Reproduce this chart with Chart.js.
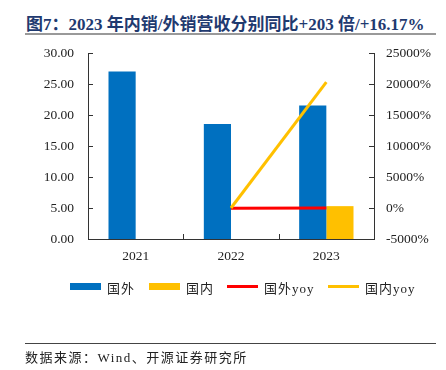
<!DOCTYPE html>
<html>
<head>
<meta charset="utf-8">
<script src="https://cdn.jsdelivr.net/npm/chart.js@4"></script>
<style>
  body { margin: 0; background: #fff; }
  #wrap { position: relative; width: 446px; height: 370px; overflow: hidden; }
  #chart { position: absolute; left: 0; top: 0; }
  .title { position: absolute; left: 26px; top: 10px; font: bold 17px "Liberation Serif", "Noto Sans CJK SC", serif; color: #1F3A70; white-space: nowrap; }
  .rule { position: absolute; left: 25px; width: 411px; background: #999; }
  .legend { position: absolute; top: 278px; left: 0; font: 13px "Liberation Serif", "Noto Sans CJK SC", serif; color: #222; }
  .legend span { position: absolute; white-space: nowrap; }
  .legend i { position: absolute; }
  .source { position: absolute; left: 25px; top: 347px; font: 13px "Liberation Serif", "Noto Sans CJK SC", serif; letter-spacing: 1.5px; color: #222; white-space: nowrap; }
</style>
</head>
<body>
<div id="wrap">
  <div class="title">图7：2023 年内销/外销营收分别同比+203 倍/+16.17%</div>
  <div class="rule" style="top:33px;height:2px;"></div>
  <canvas id="chart" width="446" height="370"></canvas>
  <div class="legend" id="legend"></div>
  <div class="rule" style="top:343px;height:1px;background:#444;"></div>
  <div class="source">数据来源：Wind、开源证券研究所</div>
</div>
<script>
// data
const years = ['2021', '2022', '2023'];
const overseasRev = [27.0, 18.55, 21.55];     // 国外
const domesticRev = [null, null, 5.3];        // 国内
const overseasYoy = [null, -31.3, 16.17];     // 国外yoy (%)
const domesticYoy = [null, 0, 20300];         // 国内yoy (%)

const blue = '#0070C0';
const gold = '#FFC000';
const red = '#FF0000';
const axisColor = '#333';
const serif = '"Liberation Serif", "Times New Roman", serif';

// ticks in this style point into the plot area
const innerTicks = {
    id: 'innerTicks',
    afterDraw(chart) {
        const { ctx, chartArea: a, scales } = chart;
        ctx.save();
        ctx.strokeStyle = axisColor;
        ctx.lineWidth = 1;
        ctx.beginPath();
        scales.y.ticks.forEach((t, i) => {
            const y = Math.round(scales.y.getPixelForTick(i)) + 0.5;
            ctx.moveTo(a.left, y);
            ctx.lineTo(a.left + 5, y);
        });
        scales.y1.ticks.forEach((t, i) => {
            const y = Math.round(scales.y1.getPixelForTick(i)) + 0.5;
            ctx.moveTo(a.right, y);
            ctx.lineTo(a.right - 5, y);
        });
        const half = (a.right - a.left) / years.length / 2;
        for (let i = 0; i <= years.length; i++) {
            const x = Math.round(scales.x.getPixelForValue(Math.min(i, years.length - 1)) + (i === years.length ? half : -half)) + 0.5;
            ctx.moveTo(x, a.bottom);
            ctx.lineTo(x, a.bottom - 5);
        }
        ctx.stroke();
        ctx.restore();
    }
};

new Chart(document.getElementById('chart'), {
    data: {
        labels: years,
        datasets: [
            { type: 'line', label: '国外yoy', data: overseasYoy, yAxisID: 'y1', borderColor: red, borderWidth: 3, pointRadius: 0, order: 1 },
            { type: 'line', label: '国内yoy', data: domesticYoy, yAxisID: 'y1', borderColor: gold, borderWidth: 3, pointRadius: 0, order: 0 },
            { type: 'bar', label: '国外', data: overseasRev, yAxisID: 'y', backgroundColor: blue, order: 2 },
            { type: 'bar', label: '国内', data: domesticRev, yAxisID: 'y', backgroundColor: gold, order: 3 }
        ]
    },
    options: {
        responsive: false,
        animation: false,
        layout: { padding: { top: 53, bottom: 101, left: 0, right: 0 } },
        datasets: { bar: { categoryPercentage: 0.57, barPercentage: 1 } },
        plugins: { legend: { display: false }, tooltip: { enabled: false } },
        scales: {
            x: {
                grid: { display: false },
                border: { display: true, color: axisColor, width: 1 },
                ticks: { color: '#222', font: { family: serif, size: 13.5 }, padding: 1 },
                afterFit(s) { s.height = 30; }
            },
            y: {
                position: 'left',
                min: 0, max: 30,
                grid: { display: false, drawTicks: false },
                border: { display: true, color: axisColor, width: 1 },
                ticks: { stepSize: 5, color: '#222', font: { family: serif, size: 13.5 }, padding: 14, callback: v => v.toFixed(2) },
                afterFit(s) { s.width = 88; }
            },
            y1: {
                position: 'right',
                min: -5000, max: 25000,
                grid: { display: false, drawTicks: false },
                border: { display: true, color: axisColor, width: 1 },
                ticks: { stepSize: 5000, color: '#222', font: { family: serif, size: 13.5 }, padding: 12, callback: v => v + '%' },
                afterFit(s) { s.width = 72; }
            }
        }
    },
    plugins: [innerTicks]
});

// legend drawn as html, laid out like the source
const legendItems = [
    { text: '国外', color: blue, x: 70, h: 7 },
    { text: '国内', color: gold, x: 149, h: 7 },
    { text: '国外yoy', color: red, x: 227, h: 3 },
    { text: '国内yoy', color: gold, x: 328, h: 3 }
];
const legend = document.getElementById('legend');
legendItems.forEach(it => {
    const sw = document.createElement('i');
    sw.style.cssText = `left:${it.x}px;top:${8 - it.h / 2}px;width:31px;height:${it.h}px;background:${it.color};`;
    legend.appendChild(sw);
    const lbl = document.createElement('span');
    lbl.textContent = it.text;
    lbl.style.left = (it.x + 37) + 'px';
    lbl.style.top = '0px';
    lbl.style.letterSpacing = '1px';
    legend.appendChild(lbl);
});
</script>
</body>
</html>
